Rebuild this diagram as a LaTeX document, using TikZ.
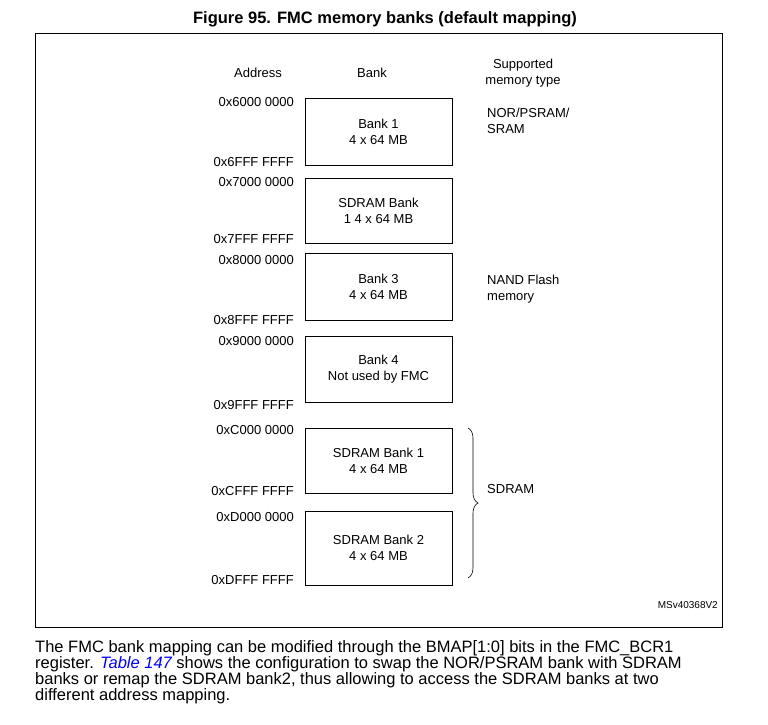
\documentclass[tikz,border=0pt]{standalone}
\usepackage{fontspec}
\setmainfont{Liberation Sans}
\usetikzlibrary{decorations.pathreplacing}
\begin{document}
\begin{tikzpicture}[x=1pt,y=-1pt,
  bankbox/.style={draw,line width=0.7pt,align=center,font=\fontsize{13}{16}\selectfont},
  lbl/.style={font=\fontsize{13}{16}\selectfont,inner sep=0pt},
  addr/.style={lbl,anchor=east}]
\useasboundingbox (0,0) rectangle (768,725);
\node[font=\bfseries\fontsize{16.5}{18}\selectfont] (title) at (385,19) {Figure 95. FMC memory banks (default mapping)};
\draw[line width=0.6pt] (35,33) rectangle (722,627);
\node[lbl] (hA) at (258,73) {Address};
\node[lbl] (hB) at (372,73) {Bank};
\node[lbl,align=center] (hC) at (523,73) {Supported\\memory type};
\foreach \n/\t/\b/\txt in {b1/98/165/{Bank 1\\4 x 64 MB},b2/178/243/{SDRAM Bank\\1 4 x 64 MB},b3/253/320/{Bank 3\\4 x 64 MB},b4/336/402/{Bank 4\\Not used by FMC},b5/428/493/{SDRAM Bank 1\\4 x 64 MB},b6/511/585/{SDRAM Bank 2\\4 x 64 MB}}{
  \node[bankbox,minimum width=147pt,minimum height={\b-\t}] (\n) at (378.5,{(\t+\b)/2}) {\txt};
}
\node[addr] (a1) at (294,102) {0x6000 0000};
\node[addr] (a2) at (294,162) {0x6FFF FFFF};
\node[addr] (a3) at (294,182) {0x7000 0000};
\node[addr] (a4) at (294,239) {0x7FFF FFFF};
\node[addr] (a5) at (294,260) {0x8000 0000};
\node[addr] (a6) at (294,320) {0x8FFF FFFF};
\node[addr] (a7) at (294,341) {0x9000 0000};
\node[addr] (a8) at (294,405) {0x9FFF FFFF};
\node[addr] (a9) at (294,430) {0xC000 0000};
\node[addr] (a10) at (294,491) {0xCFFF FFFF};
\node[addr] (a11) at (294,517) {0xD000 0000};
\node[addr] (a12) at (294,580) {0xDFFF FFFF};
\node[lbl,align=left,anchor=north west] (t1) at (487,108) {NOR/PSRAM/\\SRAM};
\node[lbl,align=left,anchor=north west] (t2) at (487,275) {NAND Flash\\memory};
\node[lbl,anchor=west] (t3) at (487,489) {SDRAM};
\coordinate (bt) at (468,428);
\coordinate (bb) at (468,578);
\draw[decorate,decoration={brace,amplitude=10pt},line width=0.6pt] (bt) -- (bb);
\node[font=\fontsize{10}{12}\selectfont,anchor=east,inner sep=0pt] (ms) at (718,605) {MSv40368V2};
\node[anchor=north west,align=left,inner sep=0pt,font=\fontsize{16.5}{16.2}\selectfont] (par) at (35,640) {The FMC bank mapping can be modified through the BMAP[1:0] bits in the FMC\_BCR1\\register. \textcolor{blue}{\itshape Table 147} shows the configuration to swap the NOR/PSRAM bank with SDRAM\\banks or remap the SDRAM bank2, thus allowing to access the SDRAM banks at two\\different address mapping.};
\end{tikzpicture}
\end{document}
